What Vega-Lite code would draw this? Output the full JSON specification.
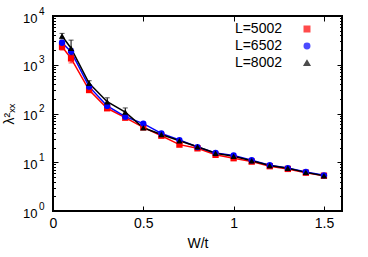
{
  "$schema": "https://vega.github.io/schema/vega-lite/v6.json",
  "width": 289,
  "height": 195,
  "autosize": "none",
  "padding": {"left": 53, "top": 16, "right": 26, "bottom": 46},
  "background": "white",
  "config": {
    "font": "Liberation Sans",
    "view": {"stroke": "black", "strokeWidth": 2},
    "axis": {"grid": false, "domain": false, "tickColor": "black", "labelColor": "black", "titleColor": "black", "labelFontSize": 14, "titleFontSize": 14, "titleFontWeight": "normal", "labelFont": "Liberation Sans", "titleFont": "Liberation Sans"},
    "legend": {"labelFontSize": 14, "labelFont": "Liberation Sans", "labelColor": "black"}
  },
  "data": {
    "values": [
      {"W": 0.05, "L": "L=5002", "lam": 2340, "lo": 2000, "hi": 2700},
      {"W": 0.1, "L": "L=5002", "lam": 1350, "lo": 1090, "hi": 1650},
      {"W": 0.2, "L": "L=5002", "lam": 303, "lo": 270, "hi": 340},
      {"W": 0.3, "L": "L=5002", "lam": 128, "lo": 118, "hi": 140},
      {"W": 0.4, "L": "L=5002", "lam": 82, "lo": null, "hi": null},
      {"W": 0.5, "L": "L=5002", "lam": 52, "lo": null, "hi": null},
      {"W": 0.6, "L": "L=5002", "lam": 35, "lo": null, "hi": null},
      {"W": 0.7, "L": "L=5002", "lam": 23, "lo": null, "hi": null},
      {"W": 0.8, "L": "L=5002", "lam": 19.3, "lo": null, "hi": null},
      {"W": 0.9, "L": "L=5002", "lam": 14.2, "lo": null, "hi": null},
      {"W": 1.0, "L": "L=5002", "lam": 12.1, "lo": null, "hi": null},
      {"W": 1.1, "L": "L=5002", "lam": 10.3, "lo": null, "hi": null},
      {"W": 1.2, "L": "L=5002", "lam": 8.3, "lo": null, "hi": null},
      {"W": 1.3, "L": "L=5002", "lam": 7.3, "lo": null, "hi": null},
      {"W": 1.4, "L": "L=5002", "lam": 6.1, "lo": null, "hi": null},
      {"W": 1.5, "L": "L=5002", "lam": 5.3, "lo": null, "hi": null},
      {"W": 0.05, "L": "L=6502", "lam": 2830, "lo": 2550, "hi": 3150},
      {"W": 0.1, "L": "L=6502", "lam": 1860, "lo": 1600, "hi": 2150},
      {"W": 0.2, "L": "L=6502", "lam": 355, "lo": null, "hi": null},
      {"W": 0.3, "L": "L=6502", "lam": 143, "lo": null, "hi": null},
      {"W": 0.4, "L": "L=6502", "lam": 86, "lo": null, "hi": null},
      {"W": 0.5, "L": "L=6502", "lam": 62, "lo": null, "hi": null},
      {"W": 0.6, "L": "L=6502", "lam": 39, "lo": null, "hi": null},
      {"W": 0.7, "L": "L=6502", "lam": 28.5, "lo": null, "hi": null},
      {"W": 0.8, "L": "L=6502", "lam": 20.5, "lo": null, "hi": null},
      {"W": 0.9, "L": "L=6502", "lam": 15.5, "lo": null, "hi": null},
      {"W": 1.0, "L": "L=6502", "lam": 13.8, "lo": null, "hi": null},
      {"W": 1.1, "L": "L=6502", "lam": 11.0, "lo": null, "hi": null},
      {"W": 1.2, "L": "L=6502", "lam": 8.7, "lo": null, "hi": null},
      {"W": 1.3, "L": "L=6502", "lam": 7.6, "lo": null, "hi": null},
      {"W": 1.4, "L": "L=6502", "lam": 6.3, "lo": null, "hi": null},
      {"W": 1.5, "L": "L=6502", "lam": 5.4, "lo": null, "hi": null},
      {"W": 0.05, "L": "L=8002", "lam": 3890, "lo": 3400, "hi": 4400},
      {"W": 0.1, "L": "L=8002", "lam": 2180, "lo": 1500, "hi": 3200},
      {"W": 0.2, "L": "L=8002", "lam": 416, "lo": 370, "hi": 470},
      {"W": 0.3, "L": "L=8002", "lam": 174, "lo": 140, "hi": 210},
      {"W": 0.4, "L": "L=8002", "lam": 107, "lo": 88, "hi": 130},
      {"W": 0.5, "L": "L=8002", "lam": 51, "lo": null, "hi": null},
      {"W": 0.6, "L": "L=8002", "lam": 37, "lo": null, "hi": null},
      {"W": 0.7, "L": "L=8002", "lam": 27.5, "lo": null, "hi": null},
      {"W": 0.8, "L": "L=8002", "lam": 20.8, "lo": null, "hi": null},
      {"W": 0.9, "L": "L=8002", "lam": 15.3, "lo": null, "hi": null},
      {"W": 1.0, "L": "L=8002", "lam": 13.3, "lo": null, "hi": null},
      {"W": 1.1, "L": "L=8002", "lam": 10.7, "lo": null, "hi": null},
      {"W": 1.2, "L": "L=8002", "lam": 8.6, "lo": null, "hi": null},
      {"W": 1.3, "L": "L=8002", "lam": 7.5, "lo": null, "hi": null},
      {"W": 1.4, "L": "L=8002", "lam": 6.2, "lo": null, "hi": null},
      {"W": 1.5, "L": "L=8002", "lam": 5.3, "lo": null, "hi": null}
    ]
  },
  "layer": [
    {
      "mark": {"type": "line", "strokeWidth": 1.5, "clip": true},
      "encoding": {
        "x": {"field": "W", "type": "quantitative", "scale": {"domain": [0, 1.6], "nice": false, "zero": false}, "axis": null},
        "y": {"field": "lam", "type": "quantitative", "scale": {"type": "log", "domain": [1, 10000], "nice": false}, "axis": null},
        "color": {"field": "L", "type": "nominal", "scale": {"domain": ["L=5002", "L=6502", "L=8002"], "range": ["#ff0000", "#0000ff", "#000000"]}}
      }
    },
    {
      "transform": [{"filter": "datum.lo != null"}],
      "mark": {"type": "errorbar", "ticks": {"size": 5}, "thickness": 1},
      "encoding": {
        "x": {"field": "W", "type": "quantitative", "axis": null},
        "y": {"field": "lo", "type": "quantitative", "axis": null},
        "y2": {"field": "hi"},
        "color": {"field": "L", "type": "nominal"}
      }
    },
    {
      "mark": {"type": "point", "filled": true, "opacity": 1, "size": 40},
      "encoding": {
        "x": {"field": "W", "type": "quantitative", "title": "W/t",
              "axis": {"orient": "bottom", "values": [0, 0.5, 1, 1.5], "format": "~g", "tickSize": -5, "tickWidth": 1, "labelPadding": 10, "titlePadding": 6, "labelFlush": false}},
        "y": {"field": "lam", "type": "quantitative", "title": "λ²ₓₓ",
              "axis": {"orient": "left", "ticks": false,
                       "values": [1, 10, 100, 1000, 10000],
                       "labelExpr": "'10'",
                       "labelFontSize": 13,
                       "labelPadding": 16, "labelOffset": 2, "titlePadding": 6, "labelFlush": false, "labelOverlap": false, "labelBaseline": "middle"}},
        "color": {"field": "L", "type": "nominal", "legend": {"title": null, "orient": "none", "legendX": 247, "legendY": 6, "labelAlign": "right", "labelOffset": -32, "rowPadding": 3, "symbolSize": 30}},
        "shape": {"field": "L", "type": "nominal", "scale": {"domain": ["L=5002", "L=6502", "L=8002"], "range": ["square", "circle", "triangle-up"]}, "legend": {"title": null, "orient": "none", "legendX": 247, "legendY": 6, "labelAlign": "right", "labelOffset": -32, "rowPadding": 3, "symbolSize": 30}}
      }
    },
    {
      "mark": {"type": "point", "opacity": 0},
      "encoding": {
        "x": {"field": "W", "type": "quantitative", "axis": {"orient": "top", "values": [0, 0.5, 1, 1.5], "labels": false, "title": null, "tickSize": -5}},
        "y": {"field": "lam", "type": "quantitative",
              "axis": {"orient": "right", "labels": false, "title": null,
                       "values": [1,2,3,4,5,6,7,8,9,10,20,30,40,50,60,70,80,90,100,200,300,400,500,600,700,800,900,1000,2000,3000,4000,5000,6000,7000,8000,9000,10000],
                       "tickSize": {"condition": {"test": "indexof([1,10,100,1000,10000], datum.value) >= 0", "value": -5}, "value": -2.5}}}
      }
    },
    {
      "mark": {"type": "point", "opacity": 0},
      "encoding": {
        "y": {"field": "lam", "type": "quantitative",
              "axis": {"orient": "left", "title": null, "ticks": false, "values": [1, 10, 100, 1000, 10000],
                       "labelExpr": "datum.value == 1 ? '0' : datum.value == 10 ? '1' : datum.value == 100 ? '2' : datum.value == 1000 ? '3' : '4'",
                       "labelFontSize": 10, "labelPadding": 9, "labelOffset": -5, "labelFlush": false, "labelOverlap": false, "labelBaseline": "middle"}}
      }
    },
    {
      "mark": {"type": "point", "opacity": 0},
      "encoding": {
        "y": {"field": "lam", "type": "quantitative",
              "axis": {"orient": "left", "title": null, "labels": false,
                       "values": [1,2,3,4,5,6,7,8,9,10,20,30,40,50,60,70,80,90,100,200,300,400,500,600,700,800,900,1000,2000,3000,4000,5000,6000,7000,8000,9000,10000],
                       "tickSize": {"condition": {"test": "indexof([1,10,100,1000,10000], datum.value) >= 0", "value": -5}, "value": -2.5}}}
      }
    }
  ],
  "resolve": {"axis": {"x": "independent", "y": "independent"}}
}
